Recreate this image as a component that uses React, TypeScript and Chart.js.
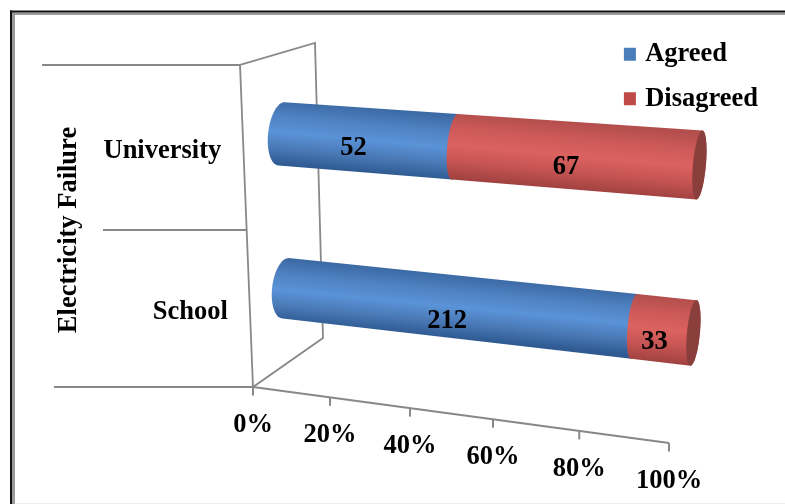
import React, { useEffect, useRef } from "react";
import { Chart, registerables } from "chart.js";

Chart.register(...registerables);

const categories = ["University", "School"];
const agreed = [52, 212];
const disagreed = [67, 33];
const seriesNames = ["Agreed", "Disagreed"];
const axisTitle = "Electricity Failure";

const WIDTH = 785;
const HEIGHT = 504;
const FONT = "'Liberation Serif', serif";
const TEXT_FONT = `bold 26.5px ${FONT}`;
const WALL_COLOR = "#888888";

type Pt = { x: number; y: number };

// Perspective plane the bars sit on: unit square to picture-plane quad.
const barPlane: Pt[] = [
  { x: 279.5, y: 54 },
  { x: 702.5, y: 78 },
  { x: 690.5, y: 414 },
  { x: 287.5, y: 363 },
];
const CHORD_LEAN = 3;

// Wall and floor outline of the 3D box.
const wallFront = [{ x: 240, y: 65 }, { x: 253, y: 387 }];
const wallBack = [{ x: 315, y: 43 }, { x: 323, y: 338 }];
const xAxisEnds = [{ x: 253, y: 387 }, { x: 669, y: 443 }];
const xAxisFore = 1.1;
const wallTicksLeft = [42, 103, 54];
const wallTickY = [65, 230, 387];

// Small per-label offsets for the value labels, [x, y] by series then category.
const labelNudge = [
  [[-4, -3], [3, 3]],
  [[1, 0], [0, 1]],
];

function makeHomography(q: Pt[]) {
  const [p0, p1, p2, p3] = q;
  const dx1 = p1.x - p2.x, dx2 = p3.x - p2.x, sx = p0.x - p1.x + p2.x - p3.x;
  const dy1 = p1.y - p2.y, dy2 = p3.y - p2.y, sy = p0.y - p1.y + p2.y - p3.y;
  const den = dx1 * dy2 - dx2 * dy1;
  const g = (sx * dy2 - dx2 * sy) / den;
  const h = (dx1 * sy - sx * dy1) / den;
  const a = p1.x - p0.x + g * p1.x, b = p3.x - p0.x + h * p3.x, c = p0.x;
  const d = p1.y - p0.y + g * p1.y, e = p3.y - p0.y + h * p3.y, f = p0.y;
  return (u: number, v: number): Pt => {
    const w = g * u + h * v + 1;
    return { x: (a * u + b * v + c) / w, y: (d * u + e * v + f) / w };
  };
}
const project = makeHomography(barPlane);

function lerp(a: Pt, b: Pt, t: number): Pt {
  return { x: a.x + (b.x - a.x) * t, y: a.y + (b.y - a.y) * t };
}

function axisPoint(u: number): Pt {
  const t = u / (u + (1 - u) * xAxisFore);
  return lerp(xAxisEnds[0], xAxisEnds[1], t);
}

// Half-width of the round end of a cylinder slice at axis position u.
function bulge(u: number) {
  return 6.5 + 7 * Math.pow(1 - u, 3);
}

function chord(u: number, vTop: number, vBot: number) {
  const top = project(u, vTop);
  const bot = project(u, vBot);
  const midX = (top.x + bot.x) / 2;
  return {
    top: { x: midX + CHORD_LEAN, y: top.y },
    bot: { x: midX - CHORD_LEAN, y: bot.y },
  };
}

function traceArc(ctx: CanvasRenderingContext2D, a: Pt, b: Pt, rx: number, move = false) {
  // half ellipse from a to b, bulging by rx (sign picks the side)
  const c = lerp(a, b, 0.5);
  const hx = (a.x - b.x) / 2, hy = (a.y - b.y) / 2;
  for (let i = 0; i <= 32; i++) {
    const th = (Math.PI * i) / 32;
    const x = c.x + hx * Math.cos(th) + rx * Math.sin(th);
    const y = c.y + hy * Math.cos(th);
    if (i === 0 && move) ctx.moveTo(x, y);
    else ctx.lineTo(x, y);
  }
}

const shades = [
  { stops: ["#3c6aa5", "#4f82c2", "#5a93d8", "#4a79b6", "#2f5a92"] },
  { stops: ["#b24e4c", "#cc5a58", "#dc6260", "#c45452", "#a14240"] },
];
const capColor = "#8a3f3c";

const box3d = {
  id: "box3d",
  beforeDraw(chart: any) {
    const ctx: CanvasRenderingContext2D = chart.ctx;
    ctx.save();
    ctx.fillStyle = "#ffffff";
    ctx.fillRect(0, 0, WIDTH, HEIGHT);
    // picture frame
    ctx.fillStyle = "#9a9a9a";
    ctx.fillRect(12, 12.5, WIDTH, 2.5);
    ctx.fillRect(12, 12.5, 3, HEIGHT);
    ctx.fillStyle = "#111111";
    ctx.fillRect(10, 10.5, WIDTH, 2);
    ctx.fillRect(10, 10.5, 2, HEIGHT);
    ctx.fillStyle = "#ececec";
    ctx.fillRect(15, 503, WIDTH, 1);
    ctx.restore();
  },
  beforeDatasetDraw() {
    return false;
  },
  beforeDatasetsDraw(chart: any) {
    const ctx: CanvasRenderingContext2D = chart.ctx;
    const { x: xs, y: ys } = chart.scales;
    ctx.save();
    ctx.strokeStyle = WALL_COLOR;
    ctx.lineWidth = 1.8;
    ctx.beginPath();
    ctx.moveTo(wallFront[0].x, wallFront[0].y);
    ctx.lineTo(wallFront[1].x, wallFront[1].y);
    ctx.lineTo(wallBack[1].x, wallBack[1].y);
    ctx.lineTo(wallBack[0].x, wallBack[0].y);
    ctx.closePath();
    ctx.stroke();

    ctx.lineWidth = 2;
    wallTickY.forEach((y, i) => {
      const t = (y - wallFront[0].y) / (wallFront[1].y - wallFront[0].y);
      ctx.beginPath();
      ctx.moveTo(wallTicksLeft[i], y);
      ctx.lineTo(lerp(wallFront[0], wallFront[1], t).x, y);
      ctx.stroke();
    });

    // value axis, ticks and tick labels follow the receding floor edge
    ctx.lineWidth = 1.8;
    ctx.beginPath();
    ctx.moveTo(xAxisEnds[0].x, xAxisEnds[0].y);
    ctx.lineTo(xAxisEnds[1].x, xAxisEnds[1].y);
    ctx.stroke();
    ctx.font = TEXT_FONT;
    ctx.textAlign = "center";
    ctx.textBaseline = "middle";
    xs.ticks.forEach((tick: any, i: number) => {
      const u = (xs.getPixelForTick(i) - xs.left) / (xs.right - xs.left);
      const p = axisPoint(u);
      ctx.strokeStyle = WALL_COLOR;
      ctx.lineWidth = 2;
      ctx.beginPath();
      ctx.moveTo(p.x, p.y);
      ctx.lineTo(p.x, p.y + 8.5);
      ctx.stroke();
      ctx.fillStyle = "#000000";
      ctx.fillText(tick.label, p.x, p.y + 38);
    });

    // category labels sit just left of the front wall edge
    ctx.textAlign = "right";
    categories.forEach((name, i) => {
      const py = ys.getPixelForTick(i);
      const v = (py - ys.top) / (ys.bottom - ys.top);
      const p = lerp(wallFront[0], wallFront[1], v);
      ctx.fillText(name, p.x - 22, p.y + 6);
    });

    ctx.translate(69, 230);
    ctx.rotate(-Math.PI / 2);
    ctx.textAlign = "center";
    ctx.fillText(axisTitle, 0, 0);
    ctx.restore();
  },
  afterDatasetsDraw(chart: any) {
    const ctx: CanvasRenderingContext2D = chart.ctx;
    const { x: xs, y: ys } = chart.scales;
    const toU = (px: number) => (px - xs.left) / (xs.right - xs.left);
    const toV = (py: number) => (py - ys.top) / (ys.bottom - ys.top);
    ctx.save();
    chart.data.datasets.forEach((ds: any, di: number) => {
      const meta = chart.getDatasetMeta(di);
      meta.data.forEach((bar: any) => {
        const u0 = toU(bar.base), u1 = toU(bar.x);
        const vTop = toV(bar.y - bar.height / 2);
        const vBot = toV(bar.y + bar.height / 2);
        const a = chord(u0, vTop, vBot);
        const b = chord(u1, vTop, vBot);
        const mu = (u0 + u1) / 2;
        const g0 = chord(mu, vTop, vBot);
        const grad = ctx.createLinearGradient(g0.top.x, g0.top.y, g0.bot.x, g0.bot.y);
        const stops = shades[di].stops;
        stops.forEach((c, i) => grad.addColorStop(i / (stops.length - 1), c));
        ctx.fillStyle = grad;
        ctx.beginPath();
        traceArc(ctx, b.top, b.bot, bulge(u1), true);
        traceArc(ctx, a.bot, a.top, -bulge(u0));
        ctx.closePath();
        ctx.fill();
      });
    });

    // dark flat ends of the stacked cylinders
    const last = chart.getDatasetMeta(chart.data.datasets.length - 1);
    last.data.forEach((bar: any) => {
      const vTop = toV(bar.y - bar.height / 2);
      const vBot = toV(bar.y + bar.height / 2);
      const e = chord(toU(bar.x), vTop, vBot);
      ctx.fillStyle = capColor;
      ctx.beginPath();
      traceArc(ctx, e.top, e.bot, bulge(1), true);
      traceArc(ctx, e.bot, e.top, -bulge(1));
      ctx.closePath();
      ctx.fill();
    });

    // value labels show the raw counts
    ctx.font = TEXT_FONT;
    ctx.fillStyle = "#000000";
    ctx.textAlign = "center";
    ctx.textBaseline = "middle";
    const raw = [agreed, disagreed];
    chart.data.datasets.forEach((_: any, di: number) => {
      chart.getDatasetMeta(di).data.forEach((bar: any, bi: number) => {
        const u = toU((bar.base + bar.x) / 2);
        const p = project(u, toV(bar.y));
        const [nx, ny] = labelNudge[di][bi];
        ctx.fillText(String(raw[di][bi]), p.x - 9 + nx, p.y + 11 + ny);
      });
    });
    ctx.restore();
  },
};

export default function App() {
  const ref = useRef<HTMLCanvasElement>(null);
  useEffect(() => {
    const totals = categories.map((_, i) => agreed[i] + disagreed[i]);
    const share = (vals: number[]) => vals.map((v, i) => (100 * v) / totals[i]);
    const chart = new Chart(ref.current!, {
      type: "bar",
      data: {
        labels: categories,
        datasets: [
          { label: seriesNames[0], data: share(agreed), backgroundColor: "#4a7ebb", borderColor: "#4a7ebb", borderWidth: 8, stack: "s" },
          { label: seriesNames[1], data: share(disagreed), backgroundColor: "#be4b48", borderColor: "#be4b48", borderWidth: 8, stack: "s" },
        ],
      },
      options: {
        indexAxis: "y",
        animation: false,
        responsive: false,
        devicePixelRatio: 1,
        layout: { padding: { top: 23, right: 17, left: 20, bottom: 20 } },
        datasets: { bar: { barPercentage: 0.4, categoryPercentage: 1 } },
        scales: {
          x: {
            display: false,
            stacked: true,
            min: 0,
            max: 100,
            ticks: { stepSize: 20, autoSkip: false, callback: (v: any) => `${v}%` },
          },
          y: { display: false, stacked: true },
        },
        plugins: {
          title: { display: false },
          tooltip: { enabled: false },
          legend: {
            display: true,
            position: "right",
            align: "start",
            labels: {
              boxWidth: 4,
              boxHeight: 5,
              padding: 18,
              color: "#000000",
              font: { family: FONT, size: 26.5, weight: "bold" },
            },
          },
        },
      } as any,
      plugins: [box3d],
    });
    return () => chart.destroy();
  }, []);
  return (
    <div style={{ position: "fixed", left: 0, top: 0, width: WIDTH, height: HEIGHT, background: "#fff" }}>
      <canvas ref={ref} width={WIDTH} height={HEIGHT} style={{ display: "block" }} />
    </div>
  );
}
